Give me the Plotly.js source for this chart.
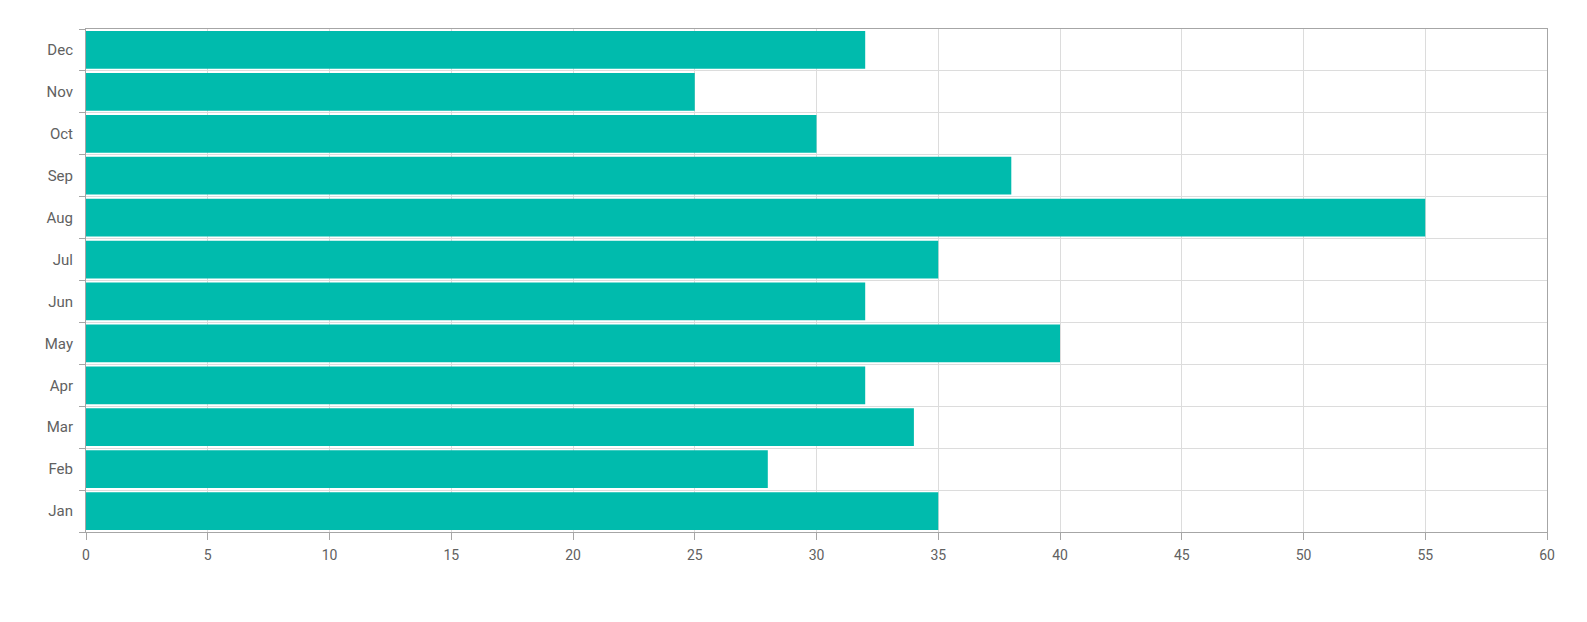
<!DOCTYPE html>
<html>
<head>
<meta charset="utf-8">
<script src="https://cdn.plot.ly/plotly-3.0.1.min.js"></script>
<style>
  html, body { margin: 0; padding: 0; background: #fff; }
  #chart { width: 1587px; height: 622px; }
</style>
</head>
<body>
<div id="chart"></div>
<script>
// Monthly totals, drawn as horizontal bars (Jan at the bottom)
const months = ["Jan", "Feb", "Mar", "Apr", "May", "Jun", "Jul", "Aug", "Sep", "Oct", "Nov", "Dec"];
const values = [35, 28, 34, 32, 40, 32, 35, 55, 38, 30, 25, 32];
const xTicks = [0, 5, 10, 15, 20, 25, 30, 35, 40, 45, 50, 55, 60];

const trace = {
  type: "bar",
  orientation: "h",
  y: months,
  x: values,
  marker: { color: "#00bbad", line: { width: 0 } },
  hoverinfo: "x+y"
};

const layout = {
  width: 1587,
  height: 622,
  margin: { l: 86, r: 40, t: 29, b: 90 },
  paper_bgcolor: "#ffffff",
  plot_bgcolor: "#ffffff",
  bargap: 0.1,
  showlegend: false,
  font: { family: "Roboto, sans-serif", size: 14, color: "#616161" },
  xaxis: {
    range: [0, 60],
    tickvals: xTicks,
    ticktext: xTicks.map(String),
    showgrid: true,
    gridcolor: "#dcdcdc",
    gridwidth: 1,
    zeroline: false,
    showline: true,
    linecolor: "#a6a6a6",
    linewidth: 1,
    mirror: true,
    ticks: "outside",
    ticklen: 7,
    tickcolor: "#a6a6a6",
    ticklabelstandoff: 3,
    tickfont: { size: 14, color: "#616161" },
    fixedrange: true
  },
  yaxis: {
    type: "category",
    categoryorder: "array",
    categoryarray: months,
    tickson: "boundaries",
    showgrid: true,
    gridcolor: "#dcdcdc",
    gridwidth: 1,
    showline: true,
    linecolor: "#a6a6a6",
    linewidth: 1,
    mirror: true,
    ticks: "outside",
    ticklen: 6,
    tickcolor: "#a6a6a6",
    ticklabelstandoff: 9,
    tickfont: { size: 15, color: "#616161" },
    fixedrange: true
  }
};

Plotly.newPlot("chart", [trace], layout, { displayModeBar: false, staticPlot: true });
</script>
</body>
</html>
